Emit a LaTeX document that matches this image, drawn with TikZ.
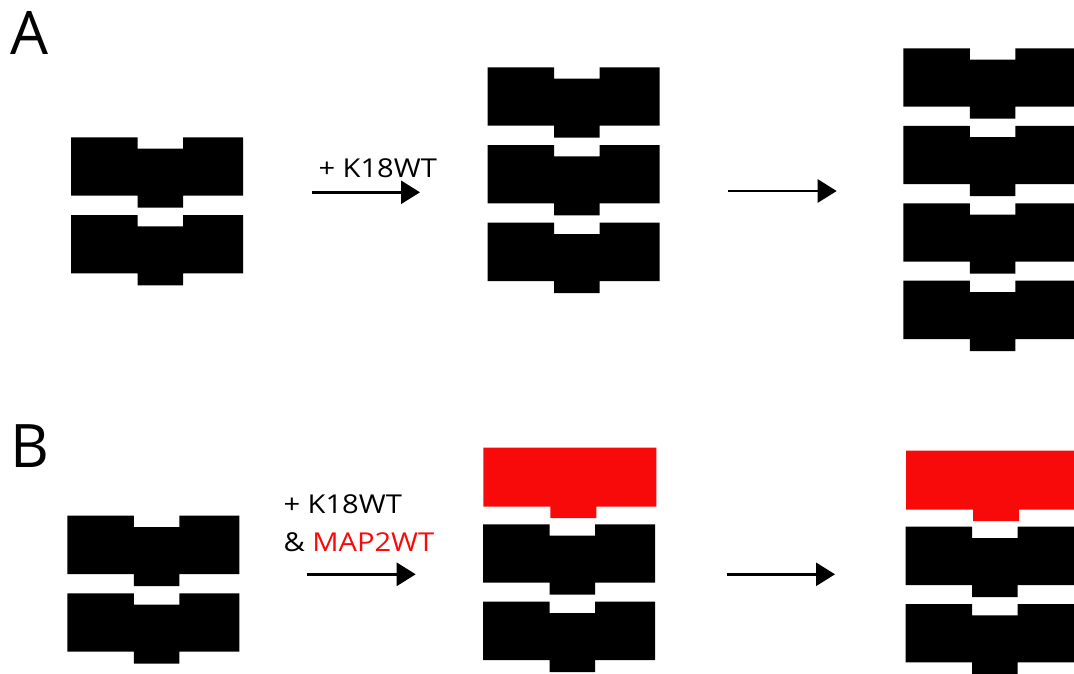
\documentclass[tikz,border=0pt]{standalone}
\usepackage{fontspec}
\setmainfont{Open Sans}
\newfontfamily\lblfont[FakeStretch=1.12]{Open Sans}
\usetikzlibrary{arrows.meta}
\definecolor{mapred}{RGB}{248,10,10}
\tikzset{
  pics/blk/.style={code={
    \fill (0,0) -- (66.5,0) -- (66.5,11.3) -- (112,11.3) -- (112,0) -- (172,0)
      -- (172,58.3) -- (112,58.3) -- (112,70.3) -- (66.5,70.3) -- (66.5,58.3)
      -- (0,58.3) -- cycle;}},
  pics/capblk/.style={code={
    \fill (0,0) -- (173,0) -- (173,58.8) -- (113,58.8) -- (113,70.5)
      -- (67,70.5) -- (67,58.8) -- (0,58.8) -- cycle;}},
  arr/.style={line width=2.7pt,-{Triangle[length=19pt,width=23pt]}},
  lbl/.style={font=\lblfont\fontsize{26}{30}\selectfont,anchor=base west,inner sep=0pt},
  panel/.style={font=\fontsize{60}{64}\selectfont,anchor=base west,inner sep=0pt},
}
\begin{document}
\begin{tikzpicture}[x=1pt,y=-1pt]
\useasboundingbox (0,0) rectangle (1074,673);
% panel labels
\node[panel] (lA) at (10,54) {A};
\node[panel] (lB) at (10,467.3) {B};
% A column 1
\pic at (71,137.3) {blk};
\pic at (71,215) {blk};
% A column 2
\pic at (487.5,67.3) {blk};
\pic at (487.5,145) {blk};
\pic at (487.5,222.7) {blk};
% A column 3
\pic at (903.3,48.3) {blk};
\pic at (903.3,125.8) {blk};
\pic at (903.3,203.3) {blk};
\pic at (903.3,280.7) {blk};
% B column 1
\pic at (67.3,515.7) {blk};
\pic at (67.3,593.3) {blk};
% B column 2
\pic[mapred] at (483.3,447.7) {capblk};
\pic at (483,524.3) {blk};
\pic at (483,601.7) {blk};
% B column 3
\pic[mapred] at (906,450.7) {capblk};
\pic at (905.5,526.7) {blk};
\pic at (905.5,604) {blk};
% arrows
\coordinate (a1s) at (312,192.3);
\coordinate (a1e) at (420,192.3);
\coordinate (a2s) at (728.3,191);
\coordinate (a2e) at (836.7,191);
\coordinate (b1s) at (307.3,574.3);
\coordinate (b1e) at (415.7,574.3);
\coordinate (b2s) at (726.7,574.3);
\coordinate (b2e) at (835,574.3);
\draw[arr] (a1s) -- (a1e);
\draw[arr] (a2s) -- (a2e);
\draw[arr] (b1s) -- (b1e);
\draw[arr] (b2s) -- (b2e);
% texts
\node[lbl] (t1) at (318.3,177.3) {+ K18WT};
\node[lbl] (t2) at (283.3,513.3) {+ K18WT};
\node[lbl] (t3) at (283.3,551.7) {\& \textcolor{mapred}{MAP2WT}};
\end{tikzpicture}
\end{document}
